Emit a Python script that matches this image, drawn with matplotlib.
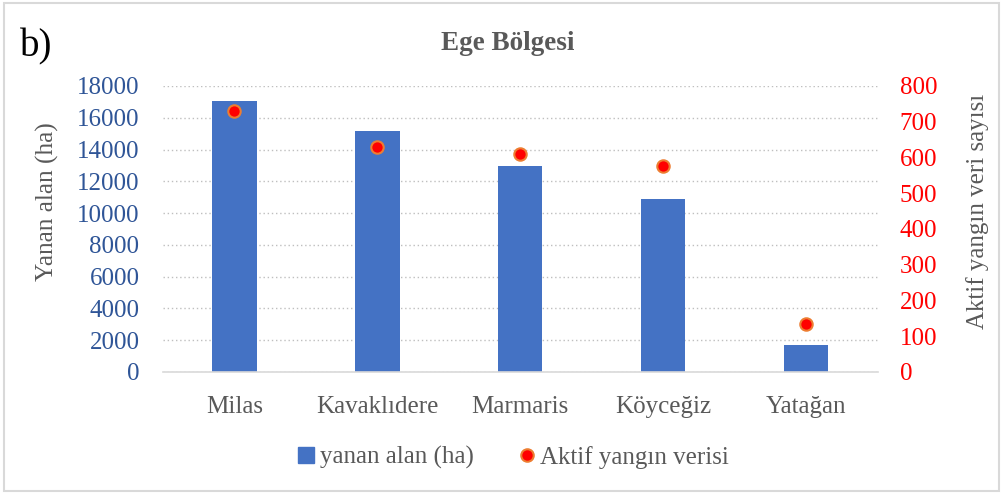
import matplotlib.pyplot as plt
from matplotlib.lines import Line2D
from matplotlib.patches import Rectangle

plt.rcParams["font.family"] = ["Liberation Serif", "DejaVu Serif"]

districts = ["Milas", "Kavaklıdere", "Marmaris", "Köyceğiz", "Yatağan"]
burned_area = [17050, 15150, 12970, 10900, 1720]
fire_points = [730, 630, 610, 577, 135]

GRAY = "#595959"
BLUE = "#4472C4"
TICK_BLUE = "#2F5597"

fig = plt.figure(figsize=(10.03, 4.94), dpi=100)
ax = fig.add_axes([0.1625, 0.247, 0.7125, 0.579])
x = list(range(len(districts)))

ax.bar(x, burned_area, width=0.31, color=BLUE, zorder=2)
ax.set_xlim(-0.5, len(districts) - 0.5)
ax.set_ylim(0, 18000)
ax.set_yticks(range(0, 18001, 2000))
ax.grid(axis="y", linestyle=(0, (1, 2)), color="#BFBFBF", linewidth=1, zorder=0)
ax.set_xticks(x)
ax.set_xticklabels(districts, fontsize=18, color=GRAY)
ax.tick_params(axis="x", length=0, pad=17)
ax.tick_params(axis="y", length=0, labelsize=18, labelcolor=TICK_BLUE, pad=17)
for side in ["top", "left", "right"]:
    ax.spines[side].set_visible(False)
ax.spines["bottom"].set_color("#D9D9D9")
ax.spines["bottom"].set_linewidth(1.2)
ax.set_ylabel("Yanan alan (ha)", fontsize=18.3, color=GRAY)
ax.yaxis.set_label_coords(-0.146, 0.594)

ax2 = ax.twinx()
ax2.scatter(x, fire_points, s=80, color="#FF0000", edgecolors="#ED7D31",
            linewidths=1.5, zorder=3)
ax2.set_ylim(0, 800)
ax2.set_yticks(range(0, 801, 100))
ax2.tick_params(axis="y", length=0, labelsize=18, labelcolor="#FF0000", pad=16)
for side in ["top", "left", "right", "bottom"]:
    ax2.spines[side].set_visible(False)
ax2.set_ylabel("Aktif yangın veri sayısı", fontsize=18, color=GRAY)
ax2.yaxis.set_label_coords(1.124, 0.56)

fig.text(0.506, 0.912, "Ege Bölgesi", fontsize=19.5, fontweight="bold",
         color=GRAY, ha="center", va="center")
fig.text(0.02, 0.905, "b)", fontsize=28, color="black", va="center")

handles = [
    Line2D([], [], marker="s", linestyle="none", markersize=11, color=BLUE),
    Line2D([], [], marker="o", linestyle="none", markersize=9,
           markerfacecolor="#FF0000", markeredgecolor="#ED7D31", markeredgewidth=1.5),
]
fig.legend(handles, ["yanan alan (ha)", "Aktif yangın verisi"], loc="center",
           bbox_to_anchor=(0.51, 0.074), ncol=2, frameon=False, fontsize=18,
           labelcolor=GRAY, handletextpad=0.05, columnspacing=1.6, handlelength=1)

fig.add_artist(Rectangle((0.004, 0.006), 0.992, 0.988, transform=fig.transFigure,
                         fill=False, edgecolor="#D9D9D9", linewidth=1.5))

fig.savefig("out.png", dpi=100)
